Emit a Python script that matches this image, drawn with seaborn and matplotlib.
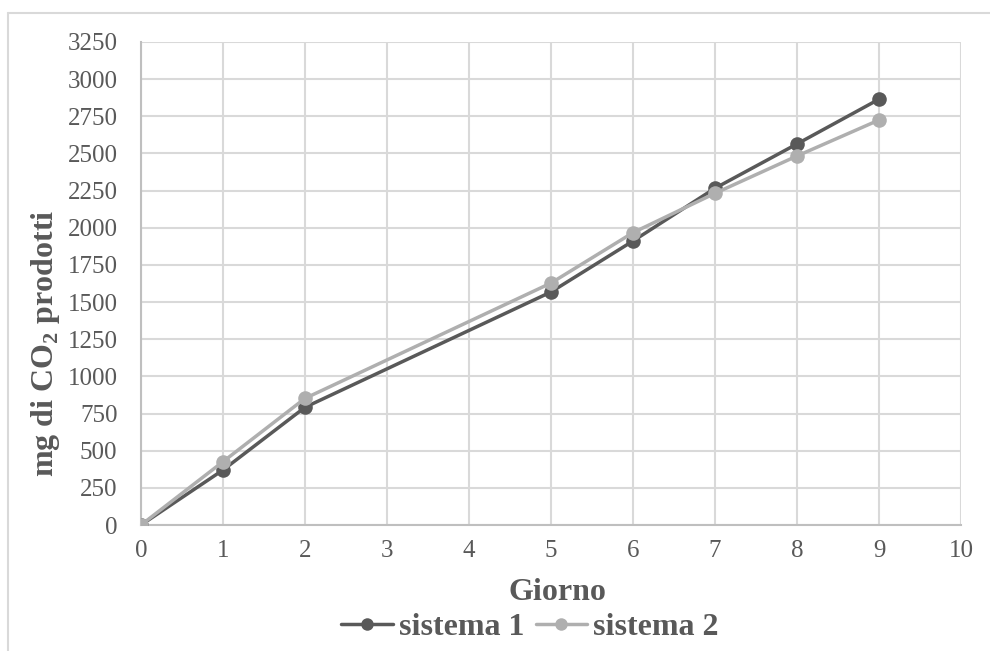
import matplotlib
matplotlib.use("Agg")
import matplotlib.pyplot as plt
import seaborn as sns
import pandas as pd
from matplotlib.lines import Line2D

giorni = [0, 1, 2, 5, 6, 7, 8, 9]
sistema_1 = [0, 370, 792, 1568, 1911, 2266, 2564, 2865]
sistema_2 = [0, 426, 852, 1628, 1967, 2232, 2483, 2725]
x_ticks = list(range(0, 11))
y_ticks = list(range(0, 3251, 250))

sns.set_style("white")
plt.rcParams['font.family'] = ['Liberation Serif', 'DejaVu Serif']
plt.rcParams['mathtext.fontset'] = 'custom'
plt.rcParams['mathtext.bf'] = 'Liberation Serif:bold'
plt.rcParams['mathtext.rm'] = 'Liberation Serif'

df = pd.DataFrame({
    "Giorno": giorni * 2,
    "val": sistema_1 + sistema_2,
    "serie": ["sistema 1"] * len(giorni) + ["sistema 2"] * len(giorni),
})

fig = plt.figure(figsize=(9.9, 6.51), dpi=100)
ax = fig.add_axes([141/990, 1 - 525/651, (961-141)/990, (525-42)/651])

palette = {"sistema 1": "#595959", "sistema 2": "#afafaf"}
sns.lineplot(data=df, x="Giorno", y="val", hue="serie", palette=palette,
             marker="o", markersize=10.5, markeredgewidth=0, linewidth=2.5,
             ax=ax, legend=False, zorder=3)

ax.set_xlim(0, 10)
ax.set_ylim(0, 3250)
ax.set_xticks(x_ticks)
ax.set_yticks(y_ticks)
ax.tick_params(axis='both', labelsize=18, length=0)
ax.tick_params(axis='y', pad=17)
ax.tick_params(axis='x', pad=11)
for lbl in ax.get_xticklabels() + ax.get_yticklabels():
    lbl.set_color("#595959")
ax.grid(True, color="#d9d9d9", linewidth=1.5)
for s in ["top", "right"]:
    ax.spines[s].set_visible(False)
for s in ["left", "bottom"]:
    ax.spines[s].set_color("#bfbfbf")
    ax.spines[s].set_linewidth(1.5)
ax.set_axisbelow(True)

ax.set_xlabel("Giorno", fontsize=23, fontweight="bold", color="#595959", labelpad=4)
ax.xaxis.set_label_coords((557 - 141) / (961 - 141), -(592 - 525) / (525 - 42))
ax.set_ylabel(r"mg di CO$_\mathbf{2}$ prodotti", fontsize=23, fontweight="bold",
              color="#595959")
ax.yaxis.set_label_coords(-(141 - 46) / (961 - 141), (525 - 343) / (525 - 42))
ax.xaxis.label.set_va("center")
ax.yaxis.label.set_va("center")

handles = [Line2D([0], [0], color=palette[k], marker="o", markersize=9,
                  markeredgewidth=0, linewidth=2.5) for k in ["sistema 1", "sistema 2"]]
leg = fig.legend(handles, ["sistema 1", "sistema 2"], loc="center",
                 bbox_to_anchor=(530 / 990, 1 - 627 / 651), ncol=2, frameon=False,
                 prop={"family": "Liberation Serif", "weight": "bold", "size": 23},
                 handlelength=1.6, handletextpad=0.2, columnspacing=0.35,
                 borderpad=0, borderaxespad=0)
for t in leg.get_texts():
    t.set_color("#595959")

fig.add_artist(Line2D([8/990, 8/990], [0, 1 - 13/651], color="#d9d9d9", linewidth=1.5))
fig.add_artist(Line2D([8/990, 1], [1 - 13/651, 1 - 13/651], color="#d9d9d9", linewidth=1.5))

fig.savefig("out.png", dpi=100)
